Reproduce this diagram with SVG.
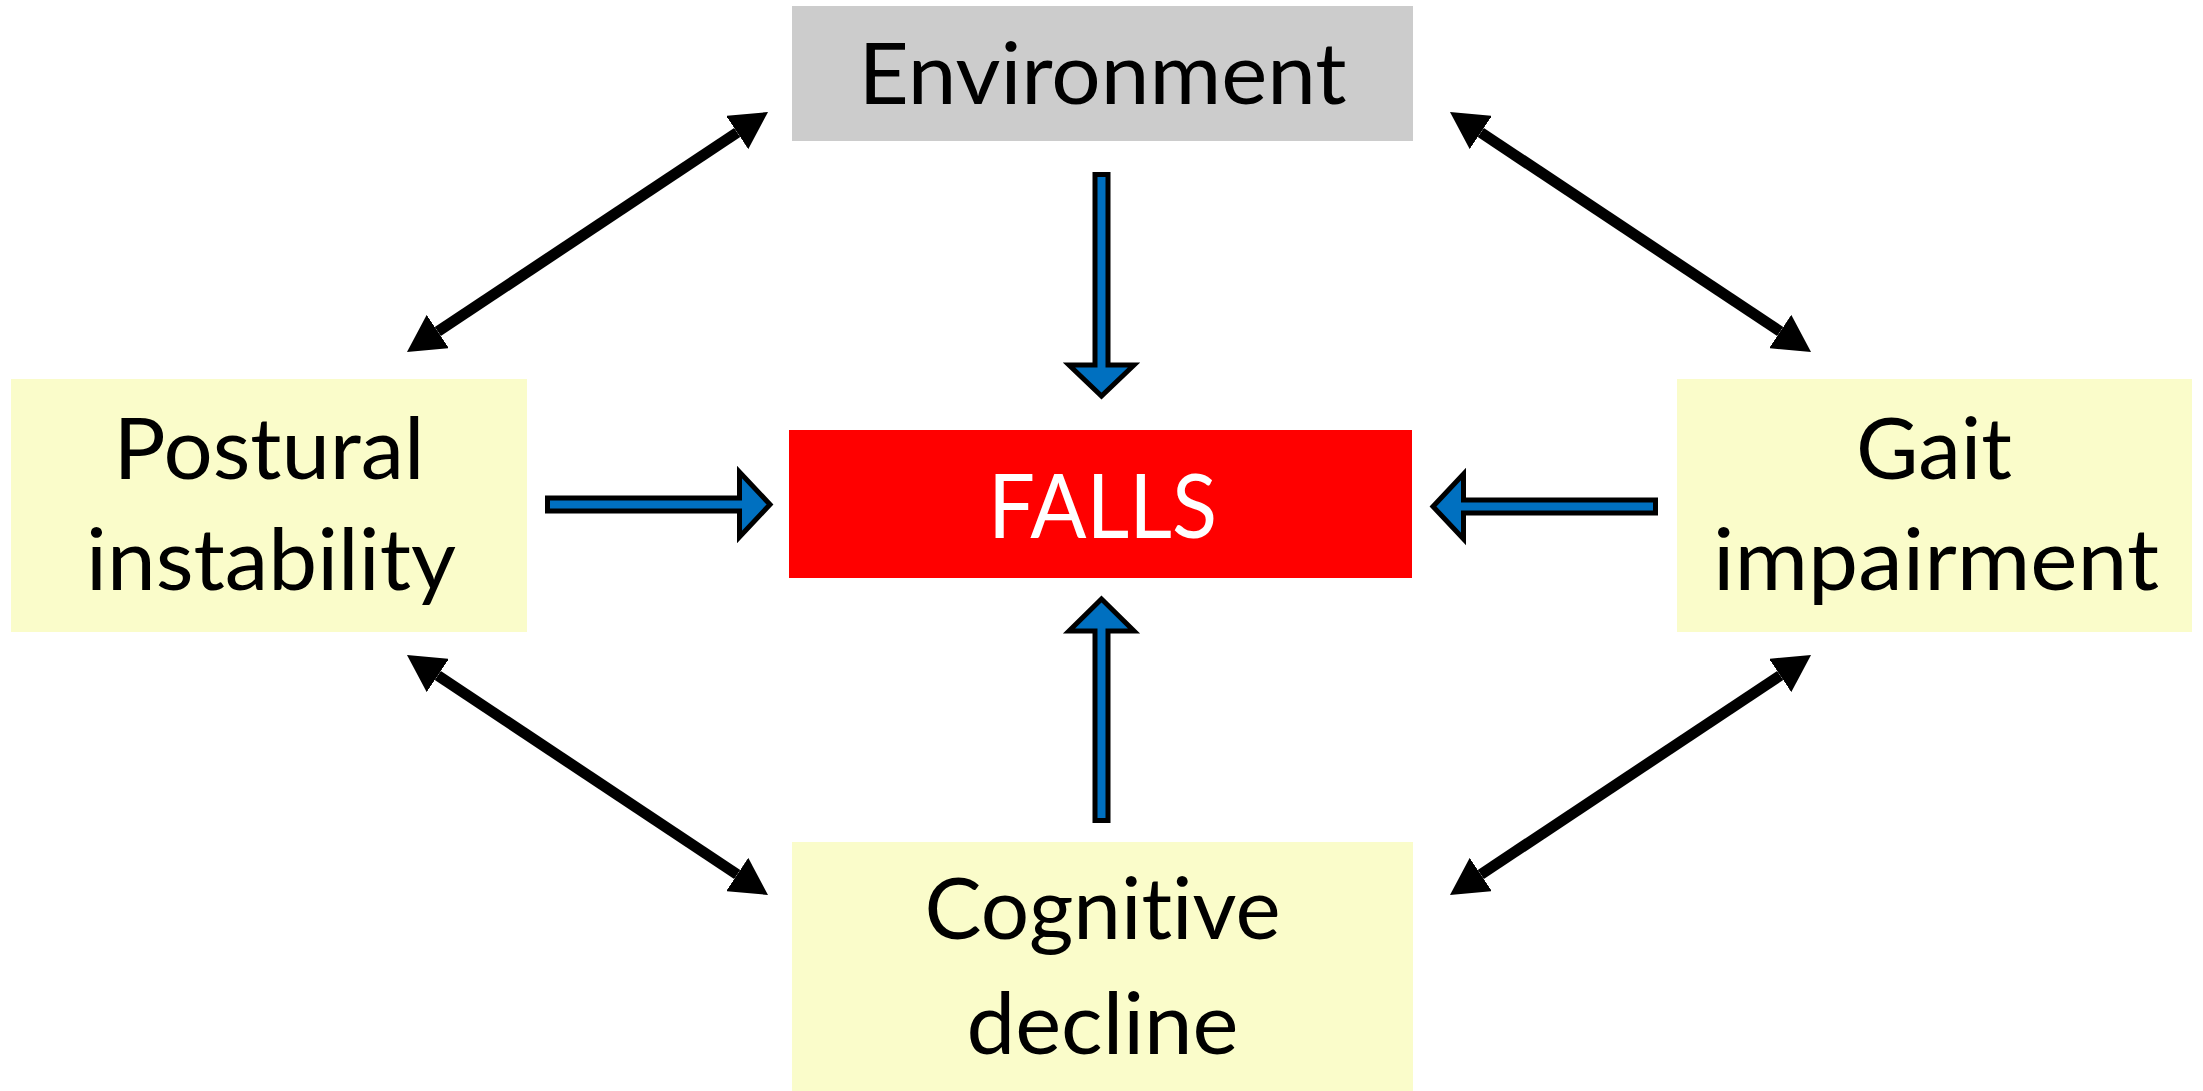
<svg xmlns="http://www.w3.org/2000/svg" width="2203" height="1091" viewBox="0 0 2203 1091">
<style>
.lbl{font-family:Lato,"Liberation Sans",sans-serif;font-size:85px;fill:#000;text-anchor:middle;font-variant-ligatures:none;font-feature-settings:"liga" 0,"clig" 0}
.falls{font-family:Lato,"Liberation Sans",sans-serif;font-size:90px;fill:#fff;text-anchor:middle}
.yel{fill:#FAFCCA}
.dbl{stroke:#000;stroke-width:11;fill:none;marker-start:url(#tri);marker-end:url(#tri)}
.blk{fill:#0070C0;stroke:#000;stroke-width:5;stroke-linejoin:miter}
</style>
<defs>
<marker id="tri" markerUnits="userSpaceOnUse" markerWidth="37" markerHeight="40" viewBox="0 0 37 40" refX="0" refY="20" orient="auto-start-reverse">
<path d="M0,0 L37,20 L0,40 z" fill="#000"/>
</marker>
</defs>
<rect width="2203" height="1091" fill="#fff"/>
<g id="environment">
<rect x="792" y="6" width="621" height="135" fill="#CCCCCC"/>
<text class="lbl" x="1102.5" y="104" textLength="488" lengthAdjust="spacingAndGlyphs">Environment</text>
</g>
<g id="postural">
<rect class="yel" x="11" y="379" width="516" height="253"/>
<text class="lbl" x="269" y="479" textLength="311" lengthAdjust="spacingAndGlyphs">Postural</text>
<text class="lbl" x="271" y="590" textLength="370" lengthAdjust="spacingAndGlyphs">instability</text>
</g>
<g id="gait">
<rect class="yel" x="1677" y="379" width="515" height="253"/>
<text class="lbl" x="1934" y="479" textLength="156" lengthAdjust="spacingAndGlyphs">Gait</text>
<text class="lbl" x="1936" y="590" textLength="446" lengthAdjust="spacingAndGlyphs">impairment</text>
</g>
<g id="falls">
<rect x="789" y="430" width="623" height="148" fill="#FF0000"/>
<text class="falls" x="1102.5" y="538" textLength="229" lengthAdjust="spacingAndGlyphs">FALLS</text>
</g>
<g id="cognitive">
<rect class="yel" x="792" y="842" width="621" height="249"/>
<text class="lbl" x="1102.5" y="939" textLength="356" lengthAdjust="spacingAndGlyphs">Cognitive</text>
<text class="lbl" x="1102.5" y="1054" textLength="272" lengthAdjust="spacingAndGlyphs">decline</text>
</g>
<g id="connectors">
<line class="dbl" x1="437.8" y1="331.5" x2="737.2" y2="132.5"/>
<line class="dbl" x1="1480.8" y1="132.5" x2="1780.2" y2="331.5"/>
<line class="dbl" x1="437.8" y1="675.5" x2="737.2" y2="874.5"/>
<line class="dbl" x1="1780.2" y1="675.5" x2="1480.8" y2="874.5"/>
<polygon class="blk" points="1095,174.5 1108,174.5 1108,365 1134,365 1101.5,396 1069,365 1095,365"/>
<polygon class="blk" points="1101.5,599 1134,631 1108,631 1108,820.5 1095,820.5 1095,631 1069,631"/>
<polygon class="blk" points="547.5,498 739.5,498 739.5,472 770,504.5 739.5,537 739.5,511 547.5,511"/>
<polygon class="blk" points="1655.5,500 1463.5,500 1463.5,474 1433,506.5 1463.5,539 1463.5,513 1655.5,513"/>
</g>
</svg>
